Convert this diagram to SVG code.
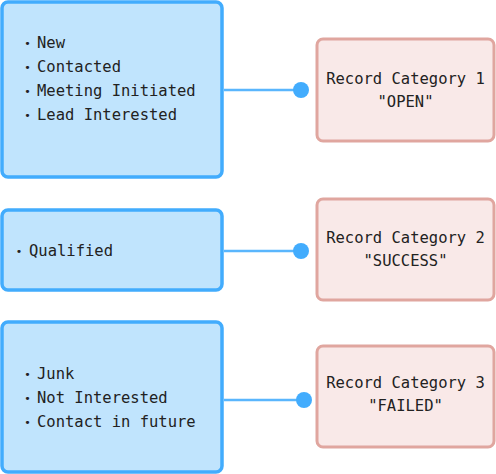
<svg xmlns="http://www.w3.org/2000/svg" width="496" height="474" viewBox="0 0 496 474">
<style>
.src{fill:#c0e4fd;stroke:#42acfd;stroke-width:3.5}
.dst{fill:#f9e9e8;stroke:#e0a69f;stroke-width:3}
.t{font-family:"DejaVu Sans Mono","Liberation Mono",monospace;font-size:15.5px;fill:#222}
.c{text-anchor:middle}
.b{font-family:"DejaVu Sans",sans-serif;font-size:11px;fill:#222;text-anchor:middle}
.ln{stroke:#5ab6fd;stroke-width:2.5;fill:none}
.dot{fill:#42acfd}
</style>
<rect width="496" height="474" fill="#ffffff"/>
<g id="connectors">
<line class="ln" x1="224" y1="90" x2="301" y2="90"/>
<circle class="dot" cx="301" cy="90" r="8"/>
<line class="ln" x1="224" y1="251" x2="301" y2="251"/>
<circle class="dot" cx="301" cy="251" r="8"/>
<line class="ln" x1="224" y1="400" x2="304" y2="400"/>
<circle class="dot" cx="304" cy="400" r="8"/>
</g>
<g id="src1">
<rect class="src" x="2" y="2" width="220" height="175" rx="6"/>
<text class="b" x="27.5" y="47">•</text><text class="t" x="37" y="48">New</text>
<text class="b" x="27.5" y="71">•</text><text class="t" x="37" y="72">Contacted</text>
<text class="b" x="27.5" y="95">•</text><text class="t" x="37" y="96">Meeting Initiated</text>
<text class="b" x="27.5" y="119">•</text><text class="t" x="37" y="120">Lead Interested</text>
</g>
<g id="src2">
<rect class="src" x="2" y="210" width="220" height="80" rx="6"/>
<text class="b" x="19" y="255">•</text><text class="t" x="29" y="256">Qualified</text>
</g>
<g id="src3">
<rect class="src" x="2" y="322" width="220" height="150" rx="6"/>
<text class="b" x="27.5" y="378">•</text><text class="t" x="37" y="379">Junk</text>
<text class="b" x="27.5" y="402">•</text><text class="t" x="37" y="403">Not Interested</text>
<text class="b" x="27.5" y="426">•</text><text class="t" x="37" y="427">Contact in future</text>
</g>
<g id="cat1">
<rect class="dst" x="317" y="39" width="177" height="102" rx="6"/>
<text class="t c" x="405.5" y="84">Record Category 1</text>
<text class="t c" x="405.5" y="107">"OPEN"</text>
</g>
<g id="cat2">
<rect class="dst" x="317" y="199" width="177" height="101" rx="6"/>
<text class="t c" x="405.5" y="242.5">Record Category 2</text>
<text class="t c" x="405.5" y="266">"SUCCESS"</text>
</g>
<g id="cat3">
<rect class="dst" x="317" y="346" width="177" height="101" rx="6"/>
<text class="t c" x="405.5" y="387.5">Record Category 3</text>
<text class="t c" x="405.5" y="411">"FAILED"</text>
</g>
</svg>
